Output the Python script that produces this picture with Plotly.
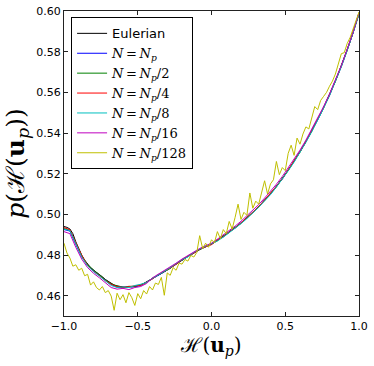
import plotly.graph_objects as go

# bin centres
x_fine = [round(-1 + 0.02 * i, 2) for i in range(101)]
x_coarse = [round(-1 + 0.04 * i, 2) for i in range(51)]

eulerian = [
    0.4940, 0.4936, 0.4928, 0.4905, 0.4865, 0.4830, 0.4800, 0.4775, 0.4755, 0.4738,
    0.4725, 0.4715, 0.4705, 0.4693, 0.4680, 0.4670, 0.4660, 0.4652, 0.4648, 0.4644,
    0.4643, 0.4641, 0.4644, 0.4643, 0.4647, 0.4648, 0.4652, 0.4660, 0.4668, 0.4676,
    0.4684, 0.4692, 0.4702, 0.4710, 0.4718, 0.4727, 0.4735, 0.4745, 0.4755, 0.4765,
    0.4775, 0.4784, 0.4793, 0.4800, 0.4810, 0.4818, 0.4827, 0.4834, 0.4840, 0.4845,
    0.4853, 0.4862, 0.4872, 0.4881, 0.4891, 0.4901, 0.4912, 0.4923, 0.4934, 0.4945,
    0.4957, 0.4970, 0.4983, 0.4996, 0.5009, 0.5023, 0.5038, 0.5054, 0.5069, 0.5085,
    0.5101, 0.5119, 0.5137, 0.5156, 0.5175, 0.5195, 0.5217, 0.5239, 0.5261, 0.5284,
    0.5307, 0.5332, 0.5358, 0.5384, 0.5410, 0.5437, 0.5466, 0.5495, 0.5525, 0.5556,
    0.5587, 0.5621, 0.5656, 0.5692, 0.5729, 0.5767, 0.5808, 0.5850, 0.5894, 0.5940,
    0.5990,
]

n_p = [
    0.4925, 0.4918, 0.4852, 0.4792, 0.4750, 0.4722, 0.4700, 0.4676, 0.4655, 0.4642,
    0.4640, 0.4645, 0.4643, 0.4650, 0.4666, 0.4683, 0.4700, 0.4717, 0.4737, 0.4756,
    0.4774, 0.4795, 0.4812, 0.4828, 0.4842, 0.4855, 0.4874, 0.4889, 0.4914, 0.4932,
    0.4959, 0.4981, 0.5011, 0.5036, 0.5071, 0.5099, 0.5139, 0.5173, 0.5219, 0.5259,
    0.5309, 0.5356, 0.5412, 0.5464, 0.5527, 0.5585, 0.5658, 0.5727, 0.5810, 0.5892,
    0.5992,
]
n_p2 = [
    0.4930, 0.4922, 0.4858, 0.4796, 0.4752, 0.4726, 0.4702, 0.4678, 0.4658, 0.4646,
    0.4638, 0.4646, 0.4645, 0.4654, 0.4664, 0.4686, 0.4703, 0.4716, 0.4734, 0.4757,
    0.4776, 0.4792, 0.4811, 0.4826, 0.4841, 0.4854, 0.4870, 0.4893, 0.4910, 0.4936,
    0.4955, 0.4985, 0.5007, 0.5040, 0.5067, 0.5103, 0.5135, 0.5177, 0.5215, 0.5263,
    0.5305, 0.5360, 0.5408, 0.5468, 0.5523, 0.5589, 0.5654, 0.5731, 0.5806, 0.5896,
    0.5985,
]
n_p4 = [
    0.4935, 0.4924, 0.4860, 0.4798, 0.4748, 0.4720, 0.4698, 0.4674, 0.4656, 0.4644,
    0.4641, 0.4643, 0.4648, 0.4651, 0.4667, 0.4682, 0.4704, 0.4719, 0.4736, 0.4754,
    0.4777, 0.4794, 0.4809, 0.4829, 0.4839, 0.4851, 0.4873, 0.4890, 0.4913, 0.4933,
    0.4958, 0.4982, 0.5010, 0.5037, 0.5070, 0.5100, 0.5138, 0.5174, 0.5218, 0.5260,
    0.5308, 0.5357, 0.5411, 0.5465, 0.5526, 0.5586, 0.5657, 0.5728, 0.5809, 0.5893,
    0.5988,
]
n_p8 = [
    0.4928, 0.4920, 0.4855, 0.4790, 0.4746, 0.4718, 0.4696, 0.4672, 0.4650, 0.4640,
    0.4643, 0.4640, 0.4650, 0.4656, 0.4665, 0.4685, 0.4701, 0.4720, 0.4738, 0.4758,
    0.4778, 0.4790, 0.4813, 0.4830, 0.4843, 0.4856, 0.4869, 0.4888, 0.4909, 0.4930,
    0.4954, 0.4979, 0.5006, 0.5034, 0.5066, 0.5097, 0.5134, 0.5171, 0.5214, 0.5257,
    0.5304, 0.5354, 0.5407, 0.5462, 0.5522, 0.5583, 0.5652, 0.5725, 0.5805, 0.5890,
    0.5984,
]
n_p16 = [
    0.4915, 0.4905, 0.4838, 0.4780, 0.4738, 0.4710, 0.4688, 0.4662, 0.4640, 0.4632,
    0.4636, 0.4630, 0.4640, 0.4645, 0.4660, 0.4688, 0.4705, 0.4722, 0.4740, 0.4760,
    0.4780, 0.4798, 0.4815, 0.4832, 0.4846, 0.4858, 0.4878, 0.4898, 0.4920, 0.4942,
    0.4966, 0.4992, 0.5020, 0.5048, 0.5080, 0.5112, 0.5148, 0.5186, 0.5228, 0.5270,
    0.5316, 0.5365, 0.5418, 0.5472, 0.5530, 0.5592, 0.5660, 0.5732, 0.5812, 0.5896,
    0.5992,
]
n_p128 = [
    0.4858, 0.4810, 0.4785, 0.4745, 0.4752, 0.4725, 0.4735, 0.4698, 0.4705, 0.4652,
    0.4668, 0.4640, 0.4628, 0.4645, 0.4615, 0.4625, 0.4598, 0.4528, 0.4612, 0.4580,
    0.4605, 0.4565, 0.4615, 0.4590, 0.4552, 0.4610, 0.4585, 0.4625, 0.4608, 0.4645,
    0.4628, 0.4662, 0.4655, 0.4690, 0.4602, 0.4712, 0.4700, 0.4738, 0.4725, 0.4760,
    0.4755, 0.4778, 0.4770, 0.4798, 0.4790, 0.4812, 0.4895, 0.4832, 0.4858, 0.4838,
    0.4875, 0.4860, 0.4915, 0.4880, 0.4925, 0.4905, 0.4965, 0.4928, 0.4985, 0.5050,
    0.4975, 0.5010, 0.4995, 0.5105, 0.5030, 0.5065, 0.5050, 0.5110, 0.5165, 0.5100,
    0.5150, 0.5170, 0.5260, 0.5195, 0.5230, 0.5215, 0.5300, 0.5340, 0.5290, 0.5375,
    0.5345, 0.5395, 0.5430, 0.5420, 0.5480, 0.5530, 0.5515, 0.5560, 0.5580, 0.5600,
    0.5630, 0.5655, 0.5690, 0.5745, 0.5790, 0.5795, 0.5840, 0.5870, 0.5910, 0.5950,
    0.5995,
]

SERIF = "DejaVu Serif"


def math(s):
    return f'<span style="font-family:{SERIF}">{s}</span>'


def label(denominator):
    tail = f"/{denominator}" if denominator else ""
    return math(f"<i>N</i>\u2009=\u2009<i>N</i><sub><i>p</i></sub>{tail}")


series = [
    ("Eulerian", x_fine, eulerian, "#000000"),
    (label(None), x_coarse, n_p, "#0000ff"),
    (label(2), x_coarse, n_p2, "#008000"),
    (label(4), x_coarse, n_p4, "#ff0000"),
    (label(8), x_coarse, n_p8, "#00bfbf"),
    (label(16), x_coarse, n_p16, "#bf00bf"),
    (label(128), x_fine, n_p128, "#bfbf00"),
]

fig = go.Figure()
for name, xs, ys, color in series:
    fig.add_trace(go.Scatter(
        x=xs, y=ys, mode="lines", name=name,
        line=dict(color=color, width=1),
    ))

axis_style = dict(
    showline=True, linecolor="#222222", linewidth=1, mirror="ticks",
    ticks="inside", ticklen=4, tickcolor="#222222",
    showgrid=False, zeroline=False, automargin=False,
    ticklabeloverflow="allow",
    tickfont=dict(family="DejaVu Sans", size=11, color="black"),
)

fig.update_xaxes(
    range=[-1, 1], tickvals=[-1, -0.5, 0, 0.5, 1],
    ticktext=["\u22121.0", "\u22120.5", "0.0", "0.5", "1.0"],
    title=dict(text="\u210b(<b>u</b><sub><i>p</i></sub>)",
               font=dict(family=SERIF, size=20, color="black"), standoff=2),
    **axis_style,
)
fig.update_yaxes(
    range=[0.45, 0.60], tickvals=[0.46, 0.48, 0.50, 0.52, 0.54, 0.56, 0.58, 0.60],
    tickformat=".2f",
    title=dict(text="<i>p</i>(\u210b(<b>u</b><sub><i>p</i></sub>))",
               font=dict(family=SERIF, size=25, color="black"), standoff=4),
    **axis_style,
)

fig.update_layout(
    width=374, height=366,
    margin=dict(l=64, r=15, t=11, b=50),
    plot_bgcolor="white", paper_bgcolor="white",
    legend=dict(
        x=0.024, y=0.979, xanchor="left", yanchor="top",
        bordercolor="black", borderwidth=1, bgcolor="white",
        font=dict(family="DejaVu Sans", size=13, color="black"),
        tracegroupgap=0, itemwidth=30,
    ),
)

# drop the default page margin so the figure fills the window
fig.write_html(
    "out.html",
    config={"displayModeBar": False},
    post_script="document.body.style.margin = '0';",
)
